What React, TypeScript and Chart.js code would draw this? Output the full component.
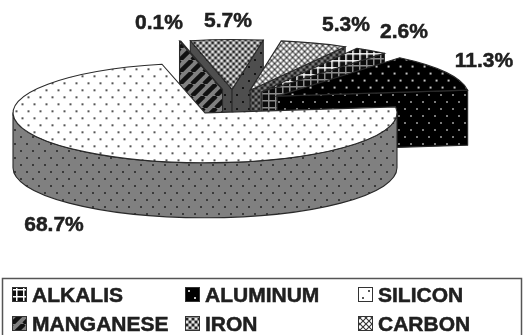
import React, { useEffect, useRef } from "react";
import { Chart, registerables } from "chart.js";

Chart.register(...registerables);

// Slice names and their percentages, in the order the pie runs clockwise.
const elements = ["ALKALIS", "ALUMINUM", "SILICON", "MANGANESE", "IRON", "CARBON"];
const percentages = [2.6, 11.3, 68.7, 0.1, 5.7, 5.3];

// Where each percentage label sits (centre of the text).
const labelSpots = [
  [404, 32],
  [484, 61],
  [54, 225],
  [159, 23],
  [228, 21],
  [346, 25],
];

// Tilted-disc geometry.
const TILT = 0.26; // vertical squash of the disc
const DEPTH = 55; // wall height in pixels
const EXPLODE = 49.6; // distance every slice moves away from the hub
const RADIUS = 192;
const START_ANGLE = 29.7;

const FONT = 'bold 21px "Liberation Sans", Arial, sans-serif';
const INK = "#202020";

type Painter = (g: CanvasRenderingContext2D) => void;

function tile(w: number, h: number, bg: string, paint: Painter) {
  const c = document.createElement("canvas");
  c.width = w;
  c.height = h;
  const g = c.getContext("2d") as CanvasRenderingContext2D;
  g.fillStyle = bg;
  g.fillRect(0, 0, w, h);
  paint(g);
  return c;
}

const dots = (bg: string, fg: string) =>
  tile(12, 14, bg, (g) => {
    g.fillStyle = fg;
    g.fillRect(2, 3, 2, 2);
    g.fillRect(8, 10, 2, 2);
  });

const grid = (bg: string, fg: string) =>
  tile(7, 7, bg, (g) => {
    g.fillStyle = fg;
    g.fillRect(0, 2, 7, 1.5);
    g.fillRect(2, 0, 1.5, 7);
  });

const stripes = (bg: string, fg: string) =>
  tile(12, 12, bg, (g) => {
    g.strokeStyle = fg;
    g.lineWidth = 4.5;
    [-12, 0, 12, 24].forEach((o) => {
      g.beginPath();
      g.moveTo(o, 12);
      g.lineTo(o + 12, 0);
      g.stroke();
    });
  });

const weave = (bg: string, fg: string, light: string) =>
  tile(6, 6, bg, (g) => {
    g.fillStyle = fg;
    g.fillRect(0, 0, 2, 2);
    g.fillRect(3, 3, 2, 2);
    g.fillStyle = light;
    g.fillRect(3, 0, 2, 2);
    g.fillRect(0, 3, 2, 2);
  });

const diamonds = (bg: string, fg: string) =>
  tile(6, 6, bg, (g) => {
    g.strokeStyle = fg;
    g.lineWidth = 1.1;
    g.beginPath();
    g.moveTo(0, 0);
    g.lineTo(6, 6);
    g.moveTo(6, 0);
    g.lineTo(0, 6);
    g.stroke();
  });

function topTiles() {
  return [
    grid("#101010", "#ffffff"),
    dots("#000000", "#c4c4c4"),
    dots("#ffffff", "#555555"),
    stripes("#808080", "#111111"),
    weave("#8c8c8c", "#222222", "#e8e8e8"),
    diamonds("#ffffff", "#333333"),
  ];
}

function wallTiles() {
  return [
    grid("#0c0c0c", "#8c8c8c"),
    dots("#000000", "#7a7a7a"),
    dots("#808080", "#3a3a3a"),
    stripes("#808080", "#111111"),
    dots("#4e4e4e", "#141414"),
    weave("#4e4e4e", "#222222", "#7c7c7c"),
  ];
}

// Painting order: back slices first, the big front slice last.
const paintOrder = [4, 3, 5, 0, 1, 2];

const discPlugin = {
  id: "tiltedDisc",
  beforeDatasetDraw(chart: any, args: any) {
    const ctx: CanvasRenderingContext2D = chart.ctx;
    const arcs = args.meta.data;
    const walls = wallTiles().map((t) => ctx.createPattern(t, "repeat") as CanvasPattern);

    for (const i of paintOrder) {
      const arc = arcs[i];
      const { x, y, startAngle, endAngle, outerRadius } = arc.getProps(
        ["x", "y", "startAngle", "endAngle", "outerRadius"],
        true,
      );
      const half = (startAngle + endAngle) / 2;
      const cx = x + EXPLODE * Math.cos(half);
      const cy = y + EXPLODE * Math.sin(half) * TILT;
      const rx = outerRadius;
      const ry = outerRadius * TILT;
      const rim = (a: number): [number, number] => [
        cx + rx * Math.cos(a),
        cy + ry * Math.sin(a),
      ];

      ctx.save();
      ctx.lineWidth = 1.1;
      ctx.lineJoin = "round";
      ctx.strokeStyle = "#2a2a2a";
      ctx.fillStyle = walls[i];

      // Flat sides: only those turned towards the viewer.
      const side = (a: number) => {
        const [px, py] = rim(a);
        ctx.beginPath();
        ctx.moveTo(cx, cy);
        ctx.lineTo(px, py);
        ctx.lineTo(px, py + DEPTH);
        ctx.lineTo(cx, cy + DEPTH);
        ctx.closePath();
        ctx.fill();
        ctx.stroke();
      };
      if (Math.cos(startAngle) < 0) side(startAngle);
      if (Math.cos(endAngle) > 0) side(endAngle);

      // Curved outer wall: the part of the rim on the near half of the disc.
      const from = Math.max(startAngle, 0);
      const to = Math.min(endAngle, Math.PI);
      if (to > from) {
        ctx.beginPath();
        ctx.ellipse(cx, cy, rx, ry, 0, from, to);
        ctx.ellipse(cx, cy + DEPTH, rx, ry, 0, to, from, true);
        ctx.closePath();
        ctx.fill();
        ctx.stroke();
      }
      ctx.restore();

      // Top face, squashed by the tilt.
      ctx.save();
      ctx.translate(cx, cy);
      ctx.scale(1, TILT);
      ctx.translate(-x, -y);
      arc.draw(ctx);
      ctx.restore();

      ctx.save();
      ctx.lineWidth = 1.1;
      ctx.strokeStyle = "#2a2a2a";
      ctx.beginPath();
      ctx.moveTo(cx, cy);
      ctx.ellipse(cx, cy, rx, ry, 0, startAngle, endAngle);
      ctx.closePath();
      ctx.stroke();
      ctx.restore();
    }
    return false;
  },
  afterDraw(chart: any) {
    const ctx: CanvasRenderingContext2D = chart.ctx;
    ctx.save();
    ctx.font = FONT;
    ctx.fillStyle = INK;
    ctx.strokeStyle = INK;
    ctx.lineWidth = 0.5;
    ctx.textAlign = "center";
    ctx.textBaseline = "middle";
    percentages.forEach((v, i) => {
      const text = `${v.toFixed(1)}%`;
      ctx.fillText(text, labelSpots[i][0], labelSpots[i][1]);
      ctx.strokeText(text, labelSpots[i][0], labelSpots[i][1]);
    });

    // Boxed key: three columns, two rows, running off the bottom edge.
    ctx.strokeStyle = "#555555";
    ctx.lineWidth = 1.5;
    ctx.strokeRect(2.5, 278.5, 519, 70);
    const keyTiles = topTiles();
    ctx.textAlign = "left";
    ctx.textBaseline = "alphabetic";
    elements.forEach((name, i) => {
      const col = i % 3;
      const row = Math.floor(i / 3);
      const bx = 12 + col * 173;
      const by = 287 + row * 29;
      ctx.fillStyle = ctx.createPattern(keyTiles[i], "repeat") as CanvasPattern;
      ctx.fillRect(bx, by, 14, 14);
      ctx.strokeStyle = "#333333";
      ctx.lineWidth = 1;
      ctx.strokeRect(bx + 0.5, by + 0.5, 14, 14);
      ctx.fillStyle = INK;
      ctx.strokeStyle = INK;
      ctx.lineWidth = 0.5;
      ctx.fillText(name, bx + 20, by + 15);
      ctx.strokeText(name, bx + 20, by + 15);
    });
    ctx.restore();
  },
};

export default function App() {
  const ref = useRef<HTMLCanvasElement>(null);

  useEffect(() => {
    const canvas = ref.current as HTMLCanvasElement;
    const ctx = canvas.getContext("2d") as CanvasRenderingContext2D;
    const unsquash = new DOMMatrix().scale(1, 1 / TILT);
    const faces = topTiles().map((t) => {
      const p = ctx.createPattern(t, "repeat") as CanvasPattern;
      p.setTransform(unsquash);
      return p;
    });

    const chart = new Chart(canvas, {
      type: "pie",
      data: {
        labels: elements,
        datasets: [{ data: percentages, backgroundColor: faces, borderWidth: 0 }],
      },
      options: {
        responsive: false,
        animation: false,
        rotation: START_ANGLE,
        radius: RADIUS,
        layout: { padding: { left: 0, top: 0, right: 58, bottom: 130.4 } },
        plugins: { legend: { display: false }, tooltip: { enabled: false } },
      } as any,
      plugins: [discPlugin as any],
    });
    return () => chart.destroy();
  }, []);

  return (
    <div style={{ position: "absolute", left: 0, top: 0, width: 525, height: 335, background: "#fff" }}>
      <canvas ref={ref} width={525} height={335} style={{ display: "block" }} />
    </div>
  );
}
